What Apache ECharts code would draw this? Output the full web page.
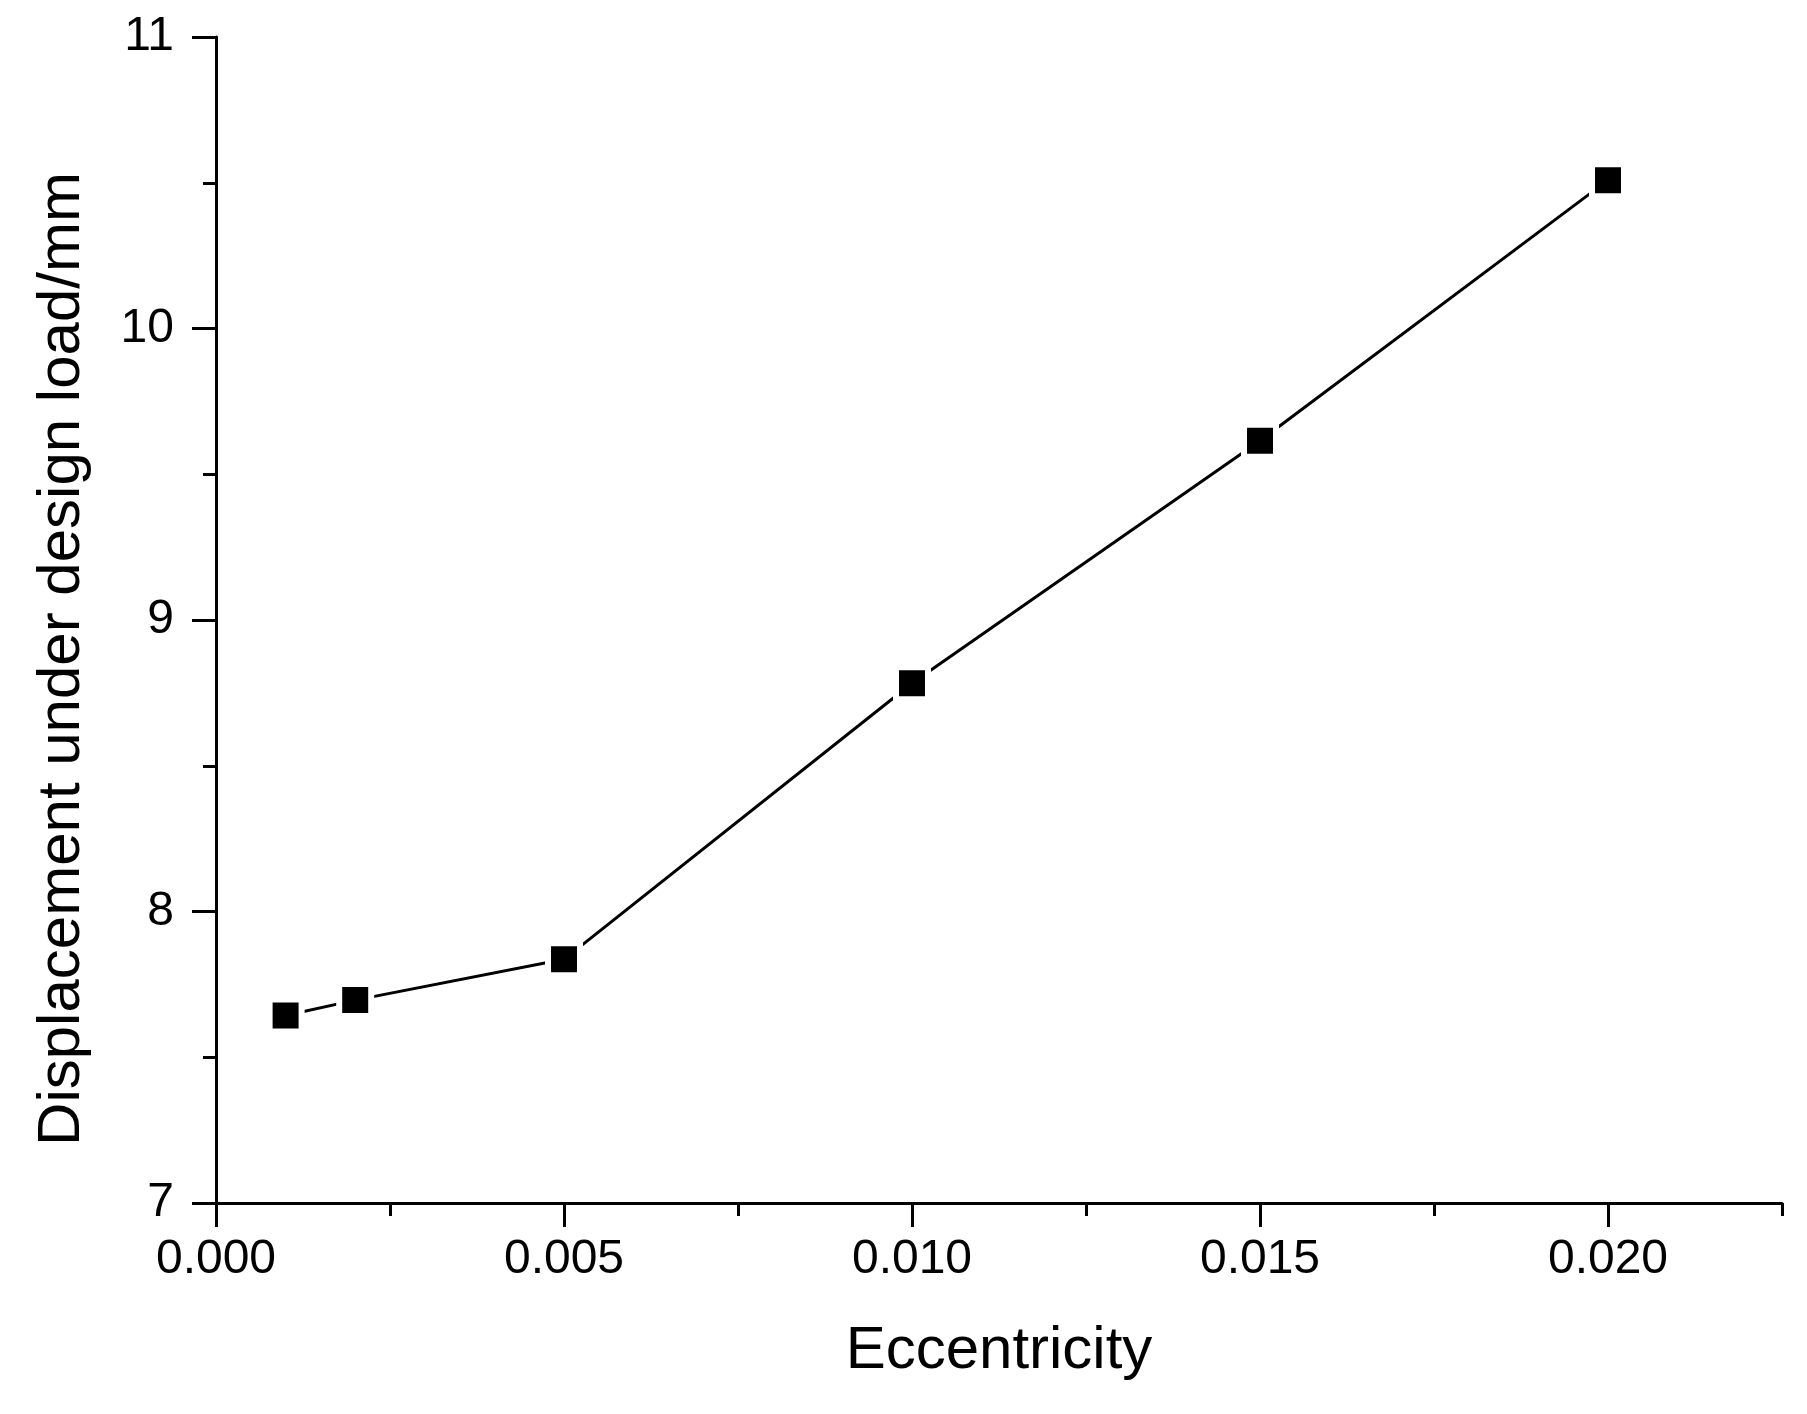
<!DOCTYPE html>
<html>
<head>
<meta charset="utf-8">
<script src="https://cdn.jsdelivr.net/npm/echarts@6/dist/echarts.min.js"></script>
<style>html,body{margin:0;padding:0;background:#fff}#c{width:1807px;height:1414px}</style>
</head>
<body>
<div id="c"></div>
<script>
const eccentricity = [0.001, 0.002, 0.005, 0.010, 0.015, 0.020];
const displacement = [7.643, 7.696, 7.836, 8.783, 9.615, 10.509];
const xMajorTicks = [0, 0.005, 0.010, 0.015, 0.020];
const xMinorTicks = [0.0025, 0.0075, 0.0125, 0.0175, 0.0225];
const yTicks = [7, 8, 9, 10, 11];
const xTitle = 'Eccentricity';
const yTitle = 'Displacement under design load/mm';

const FONT = '"Liberation Sans", Arial, sans-serif';
const chart = echarts.init(document.getElementById('c'), null, {renderer: 'canvas'});
const points = eccentricity.map((x, i) => [x, displacement[i]]);

chart.setOption({
  backgroundColor: '#fff',
  animation: false,
  grid: {left: 216, right: 25, top: 37, bottom: 211, containLabel: false},
  xAxis: [{
    type: 'value', min: 0, max: 0.0225, interval: 0.0025, position: 'bottom',
    name: xTitle, nameLocation: 'middle', nameGap: 118,
    nameTextStyle: {fontFamily: FONT, fontSize: 60, color: '#000'},
    axisLine: {show: true, onZero: false, lineStyle: {color: '#000', width: 3}},
    axisTick: {show: true, inside: false, length: 24, customValues: xMajorTicks, lineStyle: {color: '#000', width: 3}},
    axisLabel: {show: true, margin: 33, customValues: xMajorTicks, fontFamily: FONT, fontSize: 48, color: '#000',
      formatter: v => v.toFixed(3)},
    splitLine: {show: false}
  }, {
    type: 'value', min: 0, max: 0.0225, interval: 0.0025, position: 'bottom', gridIndex: 0,
    axisLine: {show: false, onZero: false},
    axisTick: {show: true, inside: false, length: 13, customValues: xMinorTicks, lineStyle: {color: '#000', width: 3}},
    axisLabel: {show: false},
    splitLine: {show: false}
  }],
  yAxis: {
    type: 'value', min: 7, max: 11, interval: 1,
    name: yTitle, nameLocation: 'middle', nameGap: 124, nameRotate: 90,
    nameTextStyle: {fontFamily: FONT, fontSize: 60, color: '#000', padding: [0, 78, 0, 0]},
    axisLine: {show: true, onZero: false, lineStyle: {color: '#000', width: 3}},
    axisTick: {show: true, inside: false, length: 24, customValues: yTicks, lineStyle: {color: '#000', width: 3}},
    minorTick: {show: true, splitNumber: 2, length: 13, lineStyle: {color: '#000', width: 3}},
    axisLabel: {show: true, margin: 42, customValues: yTicks, fontFamily: FONT, fontSize: 48, color: '#000'},
    splitLine: {show: false},
    minorSplitLine: {show: false}
  },
  series: [{
    type: 'line', xAxisIndex: 0, yAxisIndex: 0,
    data: points,
    symbol: 'rect', symbolSize: 32,
    itemStyle: {color: '#000', borderColor: '#fff', borderWidth: 6},
    lineStyle: {color: '#000', width: 3},
    z: 3
  }]
});
</script>
</body>
</html>
